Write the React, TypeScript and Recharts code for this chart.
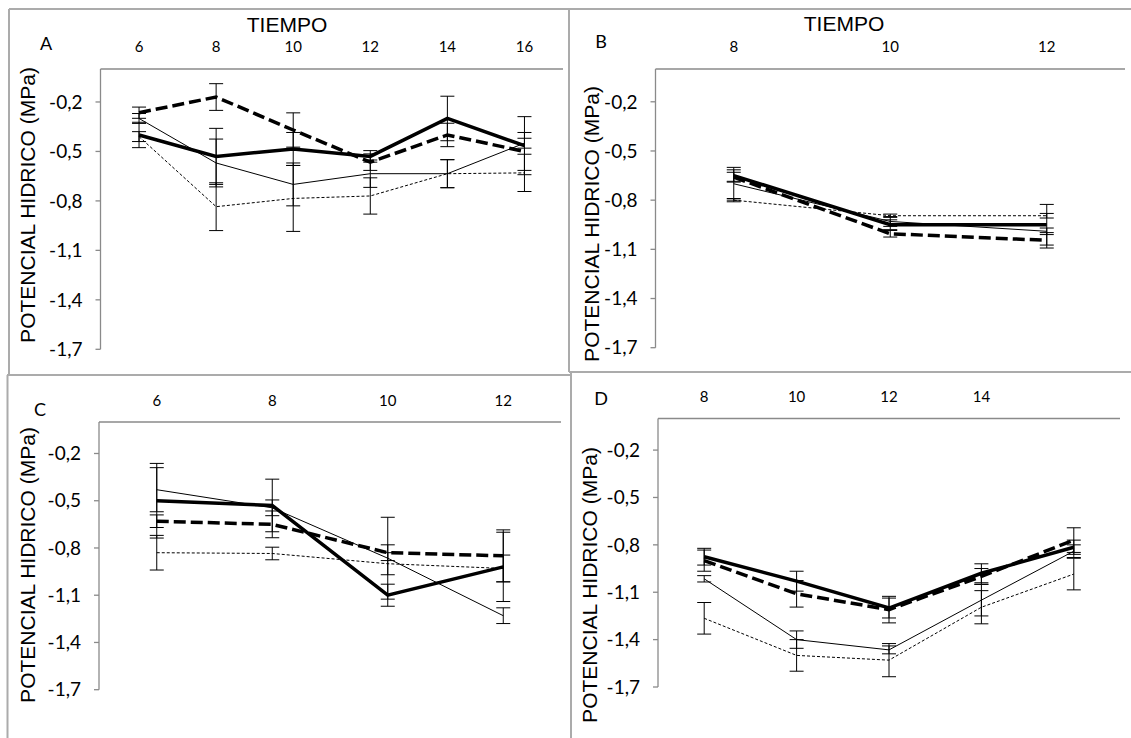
import React from 'react';
import { LineChart, Line, XAxis, YAxis, ErrorBar } from 'recharts';

// ---------- DATA ----------
const Y_TICKS = [-1.7, -1.4, -1.1, -0.8, -0.5, -0.2];

// Panel A
const A_TIMES = ['6', '8', '10', '12', '14', '16'];
const A_S1 = [-0.40, -0.53, -0.485, -0.53, -0.30, -0.465];
const A_S2 = [-0.265, -0.17, -0.37, -0.565, -0.40, -0.50];
const A_S3 = [-0.30, -0.57, -0.70, -0.635, -0.635, -0.45];
const A_S4 = [-0.41, -0.835, -0.785, -0.77, -0.635, -0.63];
const A_E1 = [0.077, 0.17, 0.1, 0.035, 0.135, 0.176];
const A_E2 = [0.034, 0.081, 0.104, 0.05, 0.071, 0.115];
const A_E3 = [0.03, 0.145, 0.13, 0.083, 0.085, 0.03];
const A_E4 = [0.03, 0.145, 0.2, 0.11, 0.085, 0.113];

// Panel B
const B_TIMES = ['8', '10', '12'];
const B_S1 = [-0.65, -0.95, -0.95];
const B_S2 = [-0.66, -1.005, -1.045];
const B_S3 = [-0.70, -0.93, -0.99];
const B_S4 = [-0.80, -0.895, -0.895];
const B_E1 = [0.035, 0.03, 0.124];
const B_E2 = [0.03, 0.02, 0.047];
const B_E3 = [0.1, 0.03, 0.02];
const B_E4 = [0.01, 0.01, 0.014];

// Panel C
const C_TIMES = ['6', '8', '10', '12'];
const C_S1 = [-0.50, -0.53, -1.10, -0.92];
const C_S2 = [-0.63, -0.65, -0.83, -0.85];
const C_S3 = [-0.43, -0.545, -0.865, -1.23];
const C_S4 = [-0.83, -0.835, -0.90, -0.93];
const C_E1 = [0.237, 0.167, 0.07, 0.22];
const C_E2 = [0.04, 0.085, 0.05, 0.165];
const C_E3 = [0.14, 0.05, 0.26, 0.05];
const C_E4 = [0.11, 0.04, 0.07, 0.085];

// Panel D
const D_TIMES = ['8', '10', '12', '14', ''];
const D_S1 = [-0.875, -1.03, -1.20, -0.98, -0.815];
const D_S2 = [-0.90, -1.11, -1.21, -1.00, -0.77];
const D_S3 = [-1.015, -1.40, -1.465, -1.15, -0.84];
const D_S4 = [-1.265, -1.50, -1.53, -1.195, -0.985];
const D_E1 = [0.053, 0.063, 0.063, 0.06, 0.045];
const D_E2 = [0.067, 0.084, 0.084, 0.05, 0.078];
const D_E3 = [0.02, 0.055, 0.025, 0.1, 0.04];
const D_E4 = [0.10, 0.10, 0.105, 0.105, 0.10];

// ---------- HELPERS ----------
type Row = { t: string; s1: number; s2: number; s3: number; s4: number; e1: number; e2: number; e3: number; e4: number };

function build(times: string[], s1: number[], s2: number[], s3: number[], s4: number[], e1: number[], e2: number[], e3: number[], e4: number[]): Row[] {
  return times.map((t, i) => ({ t, s1: s1[i], s2: s2[i], s3: s3[i], s4: s4[i], e1: e1[i], e2: e2[i], e3: e3[i], e4: e4[i] }));
}

const fmt = (v: number) => v.toFixed(1).replace('.', ',');

const AXIS = '#8a8a8a';
const BORDER = '#ababab';

type PanelProps = {
  data: Row[];
  left: number;
  top: number;
  width: number;
  height: number;
  margin: { top: number; left: number; right: number; bottom: number };
  xTickMargin: number;
};

function Panel({ data, left, top, width, height, margin, xTickMargin }: PanelProps) {
  const eb = { width: 7, stroke: '#000', strokeWidth: 1, direction: 'y' as const, isAnimationActive: false };
  const plotW = width - margin.left - margin.right - 60;
  const half = plotW / data.length / 2;
  return (
    <div style={{ position: 'absolute', left, top }}>
      <LineChart width={width} height={height} data={data} margin={margin}>
        <XAxis
          dataKey="t"
          orientation="top"
          height={30}
          interval={0}
          tickSize={0}
          tickMargin={xTickMargin}
          padding={{ left: half, right: half }}
          axisLine={{ stroke: AXIS, strokeWidth: 1.3 }}
          tickLine={false}
          tick={{ fill: '#000', fontSize: 15, fontFamily: 'Lato' }}
        />
        <YAxis
          type="number"
          domain={[-1.7, 0]}
          ticks={Y_TICKS}
          allowDataOverflow
          width={60}
          tickSize={5}
          tickMargin={13}
          tickFormatter={fmt}
          axisLine={{ stroke: AXIS, strokeWidth: 1.3 }}
          tickLine={{ stroke: AXIS, strokeWidth: 1.3 }}
          tick={{ fill: '#000', fontSize: 19, fontFamily: 'Lato' }}
        />
        <Line dataKey="s4" type="linear" stroke="#000" strokeWidth={1} strokeDasharray="3 2" dot={false} activeDot={false} isAnimationActive={false}>
          <ErrorBar dataKey="e4" {...eb} />
        </Line>
        <Line dataKey="s3" type="linear" stroke="#000" strokeWidth={1} dot={false} activeDot={false} isAnimationActive={false}>
          <ErrorBar dataKey="e3" {...eb} />
        </Line>
        <Line dataKey="s2" type="linear" stroke="#000" strokeWidth={3.5} strokeDasharray="12 5" dot={false} activeDot={false} isAnimationActive={false}>
          <ErrorBar dataKey="e2" {...eb} />
        </Line>
        <Line dataKey="s1" type="linear" stroke="#000" strokeWidth={3.5} dot={false} activeDot={false} isAnimationActive={false}>
          <ErrorBar dataKey="e1" {...eb} />
        </Line>
      </LineChart>
    </div>
  );
}

const YLABEL = 'POTENCIAL HIDRICO (MPa)';

export default function App() {
  const dataA = build(A_TIMES, A_S1, A_S2, A_S3, A_S4, A_E1, A_E2, A_E3, A_E4);
  const dataB = build(B_TIMES, B_S1, B_S2, B_S3, B_S4, B_E1, B_E2, B_E3, B_E4);
  const dataC = build(C_TIMES, C_S1, C_S2, C_S3, C_S4, C_E1, C_E2, C_E3, C_E4);
  const dataD = build(D_TIMES, D_S1, D_S2, D_S3, D_S4, D_E1, D_E2, D_E3, D_E4);

  const titleStyle = { fontFamily: 'Liberation Sans, Arial, sans-serif', fontSize: 21, fill: '#000' };
  const letterStyle = { fontFamily: 'Lato', fontSize: 18, fill: '#000' };

  return (
    <div style={{ position: 'absolute', left: 0, top: 0, width: 1131, height: 738, background: '#fff', overflow: 'hidden' }}>
      <svg width={1131} height={738} style={{ position: 'absolute', left: 0, top: 0 }}>
        {/* panel borders */}
        <line x1={9} y1={9} x2={1131} y2={9} stroke={BORDER} strokeWidth={2} />
        <line x1={9} y1={9} x2={9} y2={374} stroke={BORDER} strokeWidth={2} />
        <line x1={569} y1={9} x2={569} y2={372} stroke={BORDER} strokeWidth={2} />
        <line x1={569} y1={372} x2={1131} y2={372} stroke={BORDER} strokeWidth={2} />
        <line x1={7} y1={375} x2={571} y2={375} stroke={BORDER} strokeWidth={2} />
        <line x1={7.5} y1={375} x2={7.5} y2={738} stroke={BORDER} strokeWidth={2} />
        <line x1={571} y1={372} x2={571} y2={738} stroke={BORDER} strokeWidth={2} />

        {/* titles */}
        <text x={287} y={32} textAnchor="middle" style={titleStyle}>TIEMPO</text>
        <text x={844} y={31} textAnchor="middle" style={titleStyle}>TIEMPO</text>

        {/* panel letters */}
        <text x={46} y={49.5} textAnchor="middle" style={letterStyle}>A</text>
        <text x={601} y={48} textAnchor="middle" style={letterStyle}>B</text>
        <text x={40} y={416} textAnchor="middle" style={letterStyle}>C</text>
        <text x={601} y={405} textAnchor="middle" style={letterStyle}>D</text>

        {/* y axis labels */}
        <text x={35} y={205} textAnchor="middle" transform="rotate(-90 35 205)" style={titleStyle}>{YLABEL}</text>
        <text x={599} y={224} textAnchor="middle" transform="rotate(-90 599 224)" style={titleStyle}>{YLABEL}</text>
        <text x={35} y={565} textAnchor="middle" transform="rotate(-90 35 565)" style={titleStyle}>{YLABEL}</text>
        <text x={597} y={585} textAnchor="middle" transform="rotate(-90 597 585)" style={titleStyle}>{YLABEL}</text>
      </svg>

      <Panel data={dataA} left={0} top={0} width={569} height={372} margin={{ top: 39, left: 40.5, right: 6, bottom: 22.7 }} xTickMargin={17} />
      <Panel data={dataB} left={569} top={0} width={562} height={372} margin={{ top: 39, left: 26.5, right: 6, bottom: 24.3 }} xTickMargin={17} />
      <Panel data={dataC} left={0} top={372} width={571} height={366} margin={{ top: 20, left: 39, right: 10, bottom: 48.3 }} xTickMargin={16.3} />
      <Panel data={dataD} left={571} top={372} width={560} height={366} margin={{ top: 16.5, left: 27, right: 11, bottom: 51 }} xTickMargin={16.8} />
    </div>
  );
}
